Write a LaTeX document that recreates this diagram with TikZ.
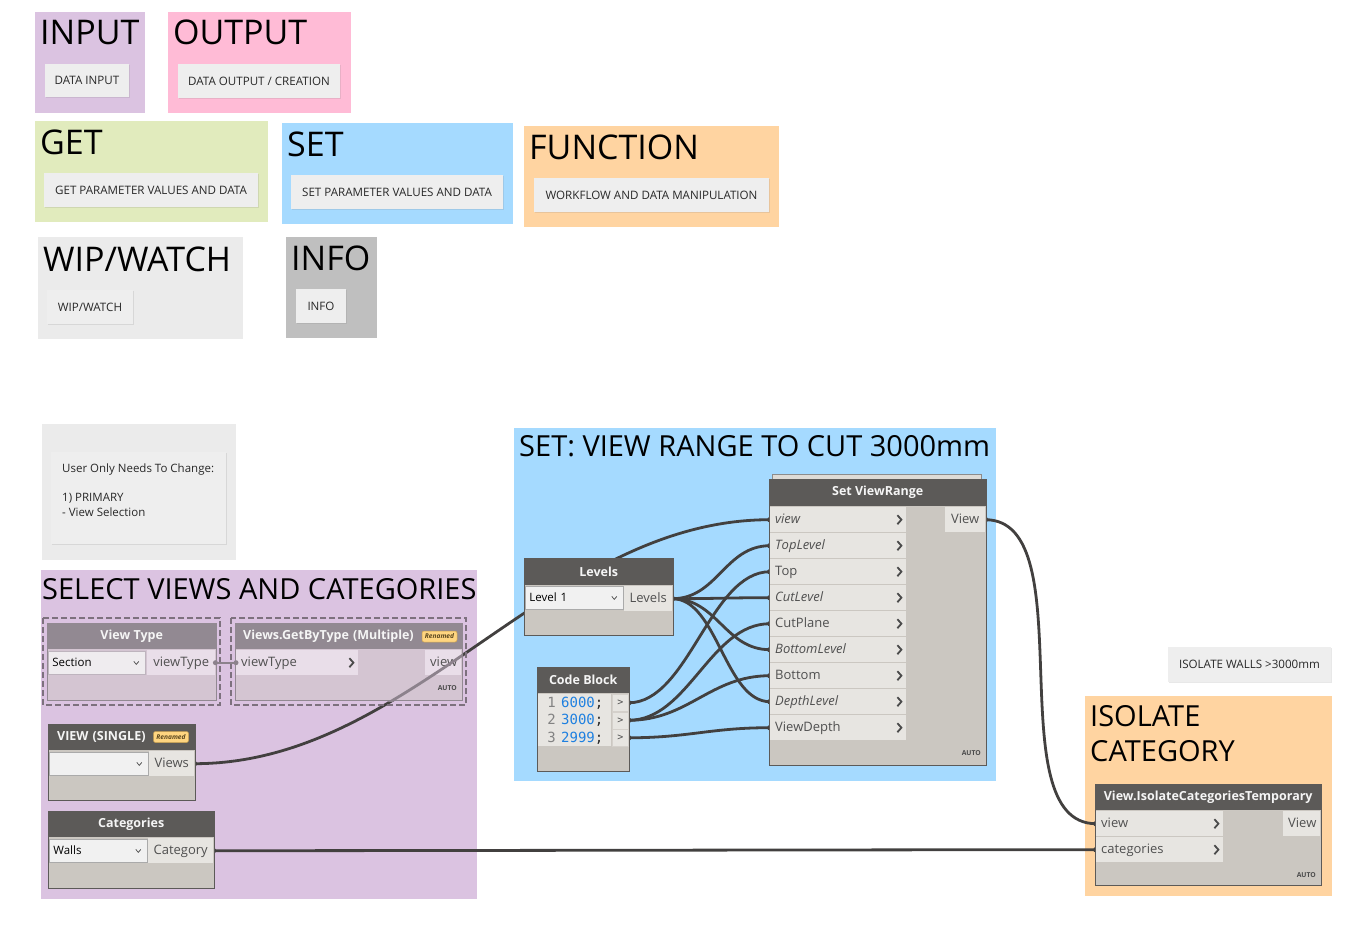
\documentclass[tikz,border=0pt]{standalone}
\usepackage{fontspec}
\setmainfont{Open Sans}
\newfontfamily\codefont{DejaVu Sans Mono}
\usetikzlibrary{calc, shadows}
\pgfdeclarelayer{bg}
\pgfdeclarelayer{wires}
\pgfdeclarelayer{top}
\pgfsetlayers{bg,wires,main,top}
\definecolor{grpPurple}{RGB}{219,195,225}
\definecolor{grpPink}{RGB}{255,187,214}
\definecolor{grpGreen}{RGB}{225,235,189}
\definecolor{grpBlue}{RGB}{165,218,255}
\definecolor{grpOrange}{RGB}{255,212,161}
\definecolor{grpLight}{RGB}{235,235,235}
\definecolor{grpGray}{RGB}{191,191,191}
\definecolor{noteFill}{RGB}{238,238,238}
\definecolor{noteTxt}{RGB}{40,40,40}
\definecolor{hdGray}{RGB}{92,90,88}
\definecolor{hdTxt}{RGB}{245,245,245}
\definecolor{bodyGray}{RGB}{203,199,193}
\definecolor{rowBg}{RGB}{231,229,225}
\definecolor{rowLine}{RGB}{212,208,203}
\definecolor{portTxt}{RGB}{80,80,80}
\definecolor{ddFill}{RGB}{241,241,241}
\definecolor{ddLine}{RGB}{170,170,170}
\definecolor{chevC}{RGB}{75,75,75}
\definecolor{wireC}{RGB}{66,64,63}
\definecolor{codeBlue}{RGB}{30,128,224}
\definecolor{lnGray}{RGB}{130,130,130}
\definecolor{badgeY}{RGB}{255,213,128}
\definecolor{badgeLine}{RGB}{200,160,80}
\definecolor{badgeTxt}{RGB}{90,70,30}
\definecolor{autoTxt}{RGB}{75,75,75}
\definecolor{stackFill}{RGB}{222,219,214}
\definecolor{stackLine}{RGB}{140,140,140}
\definecolor{ghHead}{RGB}{146,137,146}
\definecolor{ghBody}{RGB}{212,197,210}
\definecolor{ghRow}{RGB}{233,222,233}
\definecolor{ghDd}{RGB}{239,236,239}
\definecolor{ghDdLine}{RGB}{190,180,190}
\definecolor{ghWire}{RGB}{140,130,140}
\definecolor{selLine}{RGB}{125,113,126}

\begin{document}
\begin{tikzpicture}[x=1pt, y=-1pt,
    ttl/.style={anchor=base west, inner sep=0, font=\fontsize{34}{34}\selectfont},
    ttlb/.style={anchor=base west, inner sep=0, font=\fontsize{29}{29}\selectfont},
    note/.style={fill=noteFill, inner sep=0, text=noteTxt, font=\fontsize{11.6}{13}\selectfont,
      drop shadow={opacity=0.18, shadow xshift=1pt, shadow yshift=-1pt}},
    nbody/.style={anchor=north west, fill=bodyGray, draw=hdGray, line width=1, inner sep=0},
    nhead/.style={anchor=north west, fill=hdGray, text=hdTxt, inner sep=0, minimum height=26,
      font=\bfseries\fontsize{12.5}{14}\selectfont},
    prow/.style={anchor=north west, fill=rowBg, text=portTxt, inner xsep=5, inner ysep=0,
      minimum height=25, text height=10, text depth=2, font=\fontsize{13}{15}\selectfont},
    dd/.style={anchor=north west, fill=ddFill, draw=ddLine, line width=0.8, inner xsep=4, inner ysep=0,
      minimum height=23, text height=10, text depth=2, align=left, font=\fontsize{11.5}{14}\selectfont},
    chev/.style={draw=chevC, line width=1.8},
    ddchev/.style={draw=chevC, line width=0.7},
    badge/.style={fill=badgeY, draw=badgeLine, line width=0.5, rounded corners=2, inner sep=0,
      minimum width=35, minimum height=11, text=badgeTxt, font=\bfseries\itshape\fontsize{6.6}{7}\selectfont},
    autotag/.style={anchor=east, inner sep=0, text=autoTxt, font=\bfseries\fontsize{6.8}{7}\selectfont},
    cbnum/.style={anchor=base east, inner sep=0, text=lnGray, font=\codefont\fontsize{14}{14}\selectfont},
    cbcode/.style={anchor=base west, inner sep=0, text=noteTxt, font=\codefont\fontsize{14}{14}\selectfont},
    cbport/.style={anchor=north west, fill=rowBg, draw=rowLine, line width=0.6, inner sep=0,
      minimum width=16, minimum height=17, text=portTxt, font=\codefont\fontsize{10}{10}\selectfont},
    wire/.style={draw=wireC, line width=2.8},
    sel/.style={draw=selLine, line width=2.5, dash pattern=on 6pt off 3pt},
  ]
  \useasboundingbox (0,0) rectangle (1358,928);

  % groups
  \begin{pgfonlayer}{bg}
    \fill[grpPurple] (35,12) rectangle (145,113);
    \fill[grpPink] (168,12) rectangle (351,113);
    \fill[grpGreen] (35,121) rectangle (268,222);
    \fill[grpBlue] (282,123) rectangle (513,224);
    \fill[grpOrange] (524,126) rectangle (779,227);
    \fill[grpLight] (38,237) rectangle (243,339);
    \fill[grpGray] (286,237) rectangle (377,338);
    \fill[grpLight] (42,424) rectangle (236,560);
    \fill[grpPurple] (41,570) rectangle (477,899);
    \fill[grpBlue] (514,428) rectangle (996,781);
    \fill[grpOrange] (1085,696) rectangle (1332,896);
  \end{pgfonlayer}

  % legend
  \node[ttl] (t-input) at (40,45) {INPUT};
  \node[ttl] (t-output) at (173,45) {OUTPUT};
  \node[ttl] (t-get) at (40,155) {GET};
  \node[ttl] (t-set) at (287,157) {SET};
  \node[ttl] (t-function) at (529,160) {FUNCTION};
  \node[ttl] (t-wip) at (43,272) {WIP/WATCH};
  \node[ttl] (t-info) at (291,271) {INFO};

  \node[note, minimum width=84, minimum height=33] (n-input) at (87,80.5) {DATA INPUT};
  \node[note, minimum width=162, minimum height=34] (n-output) at (259,81) {DATA OUTPUT / CREATION};
  \node[note, minimum width=214, minimum height=34] (n-get) at (151,190) {GET PARAMETER VALUES AND DATA};
  \node[note, minimum width=212, minimum height=34] (n-set) at (397,192) {SET PARAMETER VALUES AND DATA};
  \node[note, minimum width=235, minimum height=34] (n-function) at (651.5,195) {WORKFLOW AND DATA MANIPULATION};
  \node[note, minimum width=86, minimum height=34] (n-wip) at (90,307) {WIP/WATCH};
  \node[note, minimum width=50, minimum height=34] (n-info) at (321,306) {INFO};

  % user note
  \node[note, anchor=north west, minimum width=175, minimum height=92] (n-user) at (51,452) {};
  \node[anchor=north west, inner sep=0, align=left, text=noteTxt, font=\fontsize{11.5}{14.5}\selectfont]
    (n-user-txt) at ($(n-user.north west)+(11,12)$) {User Only Needs To Change:\\[0pt]\mbox{}\\1) PRIMARY\\- View Selection};
  \node[note, minimum width=163, minimum height=35] (n-iso) at (1249.5,664.5) {ISOLATE WALLS >3000mm};

  % group titles
  \node[ttlb] (t-select) at (42,599) {SELECT VIEWS AND CATEGORIES};
  \node[ttlb] (t-range) at (519,456) {SET: VIEW RANGE TO CUT 3000mm};
  \node[ttlb] (t-iso1) at (1090,726) {ISOLATE};
  \node[ttlb] (t-iso2) at (1090,761) {CATEGORY};

  % View Type (frozen)
  \node[nbody, fill=ghBody, draw=ghHead, minimum width=169, minimum height=77] (vt) at (47,623) {};
  \node[nhead, fill=ghHead, minimum width=169] (vt-h) at (vt.north west) {View Type};
  \node[dd, fill=ghDd, draw=ghDdLine, text width=89] (vt-dd) at (48,651) {Section};
  \draw[ddchev] ($(vt-dd.east)+(-12,-1.5)$) -- ++(2.5,3) -- ++(2.5,-3);
  \node[prow, fill=ghRow, text width=58, align=center] (vt-out) at (147,650) {viewType};
  \draw[sel] (43,618) rectangle (220,705);

  % Views.GetByType (frozen)
  \node[nbody, fill=ghBody, draw=ghHead, minimum width=227, minimum height=77] (vg) at (235,623) {};
  \node[nhead, fill=ghHead, inner xsep=8, text width=211, align=left] (vg-h) at (vg.north west) {Views.GetByType (Multiple)};
  \node[badge] (vg-badge) at (439.5,636.5) {Renamed};
  \node[prow, fill=ghRow, text width=112, align=left] (vg-in) at (236,650) {viewType};
  \draw[chev] ($(vg-in.east)+(-9,-4.5)$) -- ++(4,4.5) -- ++(-4,4.5);
  \node[prow, fill=ghRow, text width=26, align=center] (vg-out) at (425,650) {view};
  \node[autotag] (vg-auto) at (457,688) {AUTO};
  \draw[sel] (231,618) rectangle (466,705);

  % VIEW (SINGLE)
  \node[nbody, minimum width=147, minimum height=76] (vs) at (48,724) {};
  \node[nhead, inner xsep=9, text width=129, align=left] (vs-h) at (vs.north west) {VIEW (SINGLE)};
  \node[badge] (vs-badge) at (171,737) {Renamed};
  \node[dd, text width=91] (vs-dd) at (49,752) {};
  \draw[ddchev] ($(vs-dd.east)+(-12,-1.5)$) -- ++(2.5,3) -- ++(2.5,-3);
  \node[prow, text width=35, align=center] (vs-out) at (149,751) {Views};

  % Categories
  \node[nbody, minimum width=166, minimum height=77] (cat) at (48,811) {};
  \node[nhead, minimum width=166] (cat-h) at (cat.north west) {Categories};
  \node[dd, text width=90] (cat-dd) at (49,839) {Walls};
  \draw[ddchev] ($(cat-dd.east)+(-12,-1.5)$) -- ++(2.5,3) -- ++(2.5,-3);
  \node[prow, text width=55, align=center] (cat-out) at (148,838) {Category};

  % Levels
  \node[nbody, minimum width=149, minimum height=77] (lv) at (524,558) {};
  \node[nhead, minimum width=149, minimum height=27] (lv-h) at (lv.north west) {Levels};
  \node[dd, text width=90] (lv-dd) at (525,586) {Level 1};
  \draw[ddchev] ($(lv-dd.east)+(-12,-1.5)$) -- ++(2.5,3) -- ++(2.5,-3);
  \node[prow, text width=38, align=center] (lv-out) at (624,586) {Levels};

  % Code Block
  \node[nbody, minimum width=92, minimum height=104] (cb) at (537,667) {};
  \node[nhead, minimum width=92] (cb-h) at (cb.north west) {Code Block};
  \node[anchor=north west, fill=rowBg, inner sep=0, minimum width=73, minimum height=52] (cb-area) at (538,694) {};
  \foreach \val [count=\i] in {6000,3000,2999} {
    \node[cbnum] (cb-n\i) at (556,{707+17.5*(\i-1)}) {\i};
    \node[cbcode] (cb-c\i) at (561,{707+17.5*(\i-1)}) {\textcolor{codeBlue}{\val};};
    \node[cbport] (cb-o\i) at (612,{694+17.5*(\i-1)}) {>};
  }

  % Set ViewRange
  \node[anchor=north west, fill=stackFill, draw=stackLine, line width=0.8, inner sep=0,
    minimum width=209, minimum height=8] (svr-stack) at (772,474) {};
  \node[nbody, minimum width=217, minimum height=286] (svr) at (769,479) {};
  \node[nhead, minimum width=217, minimum height=27] (svr-h) at (svr.north west) {Set ViewRange};
  \foreach \nm/\lab [count=\i from 0] in {view/\textit{view}, toplevel/\textit{TopLevel}, top/Top,
      cutlevel/\textit{CutLevel}, cutplane/CutPlane, bottomlevel/\textit{BottomLevel},
      bottom/Bottom, depthlevel/\textit{DepthLevel}, viewdepth/ViewDepth} {
    \node[prow, text width=126, align=left] (svr-\nm) at (770,{507+26*\i}) {\lab};
    \draw[chev] ($(svr-\nm.east)+(-9,-4.5)$) -- ++(4,4.5) -- ++(-4,4.5);
  }
  \node[prow, text width=30, align=center] (svr-out) at (945,507) {View};
  \node[autotag] (svr-auto) at (981,753) {AUTO};

  % View.IsolateCategoriesTemporary
  \node[nbody, minimum width=226, minimum height=101] (iso) at (1095,784) {};
  \node[nhead, minimum width=226] (iso-h) at (iso.north west) {View.IsolateCategoriesTemporary};
  \node[prow, text width=117, align=left] (iso-view) at (1096,811) {view};
  \draw[chev] ($(iso-view.east)+(-9,-4.5)$) -- ++(4,4.5) -- ++(-4,4.5);
  \node[prow, text width=117, align=left] (iso-cat) at (1096,837) {categories};
  \draw[chev] ($(iso-cat.east)+(-9,-4.5)$) -- ++(4,4.5) -- ++(-4,4.5);
  \node[prow, text width=27, align=center] (iso-out) at (1283,811) {View};
  \node[autotag] (iso-auto) at (1316,875) {AUTO};

  % wires
  \begin{pgfonlayer}{wires}
    \draw[wire] (vs-out.east) .. controls +(220,0) and +(-220,0) .. (svr-view.west);
    \foreach \dst in {toplevel, cutlevel, bottomlevel, depthlevel}
      \draw[wire] (lv-out.east) .. controls +(45,0) and +(-45,0) .. (svr-\dst.west);
    \draw[wire] (cb-o1.east) .. controls +(60,0) and +(-60,0) .. (svr-top.west);
    \draw[wire] (cb-o2.east) .. controls +(60,0) and +(-60,0) .. (svr-cutplane.west);
    \draw[wire] (cb-o2.east) .. controls +(60,0) and +(-60,0) .. (svr-bottom.west);
    \draw[wire] (cb-o3.east) .. controls +(60,0) and +(-60,0) .. (svr-viewdepth.west);
    \draw[wire] (svr-out.east) .. controls +(100,0) and +(-100,0) .. (iso-view.west);
    \draw[wire] (cat-out.east) .. controls +(200,0) and +(-200,0) .. (iso-cat.west);
    \foreach \p in {vs-out.east, lv-out.east, cb-o1.east, cb-o2.east, cb-o3.east, svr-out.east, cat-out.east,
        svr-view.west, svr-toplevel.west, svr-top.west, svr-cutlevel.west, svr-cutplane.west,
        svr-bottomlevel.west, svr-bottom.west, svr-depthlevel.west, svr-viewdepth.west,
        iso-view.west, iso-cat.west}
      \fill[wireC] (\p) circle (2.8);
  \end{pgfonlayer}
  \draw[ghWire, line width=2] (vt-out.east) -- (vg-in.west);
  \fill[ghWire] (vt-out.east) circle (2.5) (vg-in.west) circle (2.5);

  % wire seen through the frozen node
  \begin{pgfonlayer}{top}
    \begin{scope}
      \clip (vg.north west) rectangle (vg.south east);
      \draw[wire, draw=ghWire] (vs-out.east) .. controls +(220,0) and +(-220,0) .. (svr-view.west);
    \end{scope}
  \end{pgfonlayer}
\end{tikzpicture}
\end{document}
